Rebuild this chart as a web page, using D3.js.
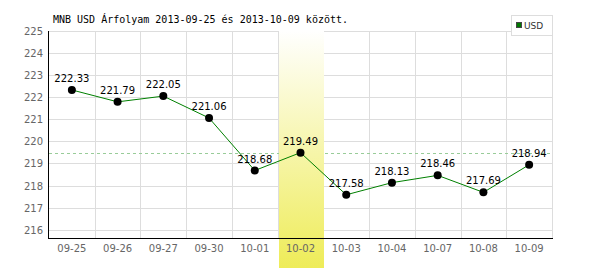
<!DOCTYPE html>
<html>
<head>
<meta charset="utf-8">
<script src="https://d3js.org/d3.v7.min.js"></script>
<style type="text/css">
body {
	margin: 0;
	background: #ffffff;
}
</style>
</head>
<body>
<div id="chart"></div>
<script type="text/javascript">
// MNB USD rates 2013-09-25 .. 2013-10-09
var dates = ["09-25", "09-26", "09-27", "09-30", "10-01", "10-02", "10-03", "10-04", "10-07", "10-08", "10-09"];
var rates = [222.33, 221.79, 222.05, 221.06, 218.68, 219.49, 217.58, 218.13, 218.46, 217.69, 218.94];
var yTicks = [216, 217, 218, 219, 220, 221, 222, 223, 224, 225];
var highlightDate = "10-02";
var seriesName = "USD";
var title = "MNB USD Árfolyam 2013-09-25 és 2013-10-09 között.";

var width = 600;
var height = 270;
// plot edges (window.top is reserved, so no "top" here)
var plotLeft = 49, plotRight = 552, plotTop = 31, plotBottom = 238.5;

var svg = d3.select("#chart")
	.append("svg")
	.attr("width", width)
	.attr("height", height);

var x = d3.scaleBand()
	.domain(dates)
	.range([plotLeft, plotRight]);

var y = d3.scaleLinear()
	.domain([215.6, 225])
	.range([plotBottom, plotTop]);

var bw = x.bandwidth();
function cx(d) { return x(d) + bw / 2; }

// gradient for the highlighted day
var grad = svg.append("defs").append("linearGradient")
	.attr("id", "hl")
	.attr("x1", 0).attr("y1", 0)
	.attr("x2", 0).attr("y2", 1);
grad.append("stop").attr("offset", "0%").attr("stop-color", "#ffffff");
grad.append("stop").attr("offset", "100%").attr("stop-color", "#eeec58");

// grid
var gGrid = svg.append("g");
gGrid.selectAll("line.h")
	.data(yTicks)
	.enter()
	.append("line")
	.attr("x1", plotLeft)
	.attr("x2", plotRight)
	.attr("y1", function(d) { return Math.round(y(d)) + 0.5; })
	.attr("y2", function(d) { return Math.round(y(d)) + 0.5; })
	.attr("stroke", "#dddddd");

gGrid.selectAll("line.v")
	.data(dates.slice(1).concat(["end"]))
	.enter()
	.append("line")
	.attr("x1", function(d) { return d == "end" ? plotRight + 0.5 : Math.round(x(d)) + 0.5; })
	.attr("x2", function(d) { return d == "end" ? plotRight + 0.5 : Math.round(x(d)) + 0.5; })
	.attr("y1", plotTop)
	.attr("y2", plotBottom)
	.attr("stroke", "#dddddd");

// dashed line at highlighted value
var hlValue = rates[dates.indexOf(highlightDate)];
svg.append("line")
	.attr("x1", plotLeft)
	.attr("x2", plotRight)
	.attr("y1", Math.round(y(hlValue)) + 0.5)
	.attr("y2", Math.round(y(hlValue)) + 0.5)
	.attr("stroke", "#99cc99")
	.attr("stroke-dasharray", "3,3");

// highlight band
svg.append("rect")
	.attr("x", Math.round(x(highlightDate)) + 1)
	.attr("y", plotTop - 1)
	.attr("width", Math.round(bw) - 1)
	.attr("height", 268 - plotTop + 1)
	.attr("fill", "url(#hl)");

// axes
svg.append("line")
	.attr("x1", plotLeft - 0.5).attr("x2", plotLeft - 0.5)
	.attr("y1", plotTop).attr("y2", plotBottom)
	.attr("stroke", "#000000");
svg.append("line")
	.attr("x1", plotLeft - 1).attr("x2", plotRight + 1)
	.attr("y1", plotBottom).attr("y2", plotBottom)
	.attr("stroke", "#000000");

svg.append("g").selectAll("text")
	.data(yTicks)
	.enter()
	.append("text")
	.attr("x", 43)
	.attr("y", function(d) { return y(d) + 4; })
	.attr("text-anchor", "end")
	.style("font-family", "DejaVu Sans")
	.style("font-size", "10px")
	.attr("fill", "#666666")
	.text(function(d) { return d; });

svg.append("g").selectAll("text")
	.data(dates)
	.enter()
	.append("text")
	.attr("x", cx)
	.attr("y", 252)
	.attr("text-anchor", "middle")
	.style("font-family", "DejaVu Sans")
	.style("font-size", "10px")
	.attr("fill", "#666666")
	.text(function(d) { return d; });

// series
var line = d3.line()
	.x(function(d, i) { return cx(dates[i]); })
	.y(function(d) { return y(d); });

svg.append("path")
	.datum(rates)
	.attr("d", line)
	.attr("fill", "none")
	.attr("stroke", "#008000")
	.attr("stroke-width", 1);

svg.append("g").selectAll("circle")
	.data(rates)
	.enter()
	.append("circle")
	.attr("cx", function(d, i) { return cx(dates[i]); })
	.attr("cy", function(d) { return y(d); })
	.attr("r", 4)
	.attr("fill", "#000000");

svg.append("g").selectAll("text")
	.data(rates)
	.enter()
	.append("text")
	.attr("x", function(d, i) { return cx(dates[i]); })
	.attr("y", function(d) { return y(d) - 8; })
	.attr("text-anchor", "middle")
	.style("font-family", "DejaVu Sans")
	.style("font-size", "10px")
	.attr("fill", "#000000")
	.text(function(d) { return d.toFixed(2); });

// title
svg.append("text")
	.attr("x", 53)
	.attr("y", 23)
	.style("font-family", "DejaVu Sans Mono")
	.style("font-size", "10px")
	.attr("fill", "#000000")
	.text(title);

// legend
var gLegend = svg.append("g");
gLegend.append("rect")
	.attr("x", 511.5).attr("y", 15.5)
	.attr("width", 41).attr("height", 20)
	.attr("fill", "#ffffff")
	.attr("stroke", "#dddddd");
gLegend.append("rect")
	.attr("x", 516.5).attr("y", 22.5)
	.attr("width", 5).attr("height", 5)
	.attr("fill", "#007700")
	.attr("stroke", "#444444");
gLegend.append("text")
	.attr("x", 524)
	.attr("y", 29)
	.style("font-family", "DejaVu Sans")
	.style("font-size", "9px")
	.attr("fill", "#333333")
	.text(seriesName);
</script>
</body>
</html>
